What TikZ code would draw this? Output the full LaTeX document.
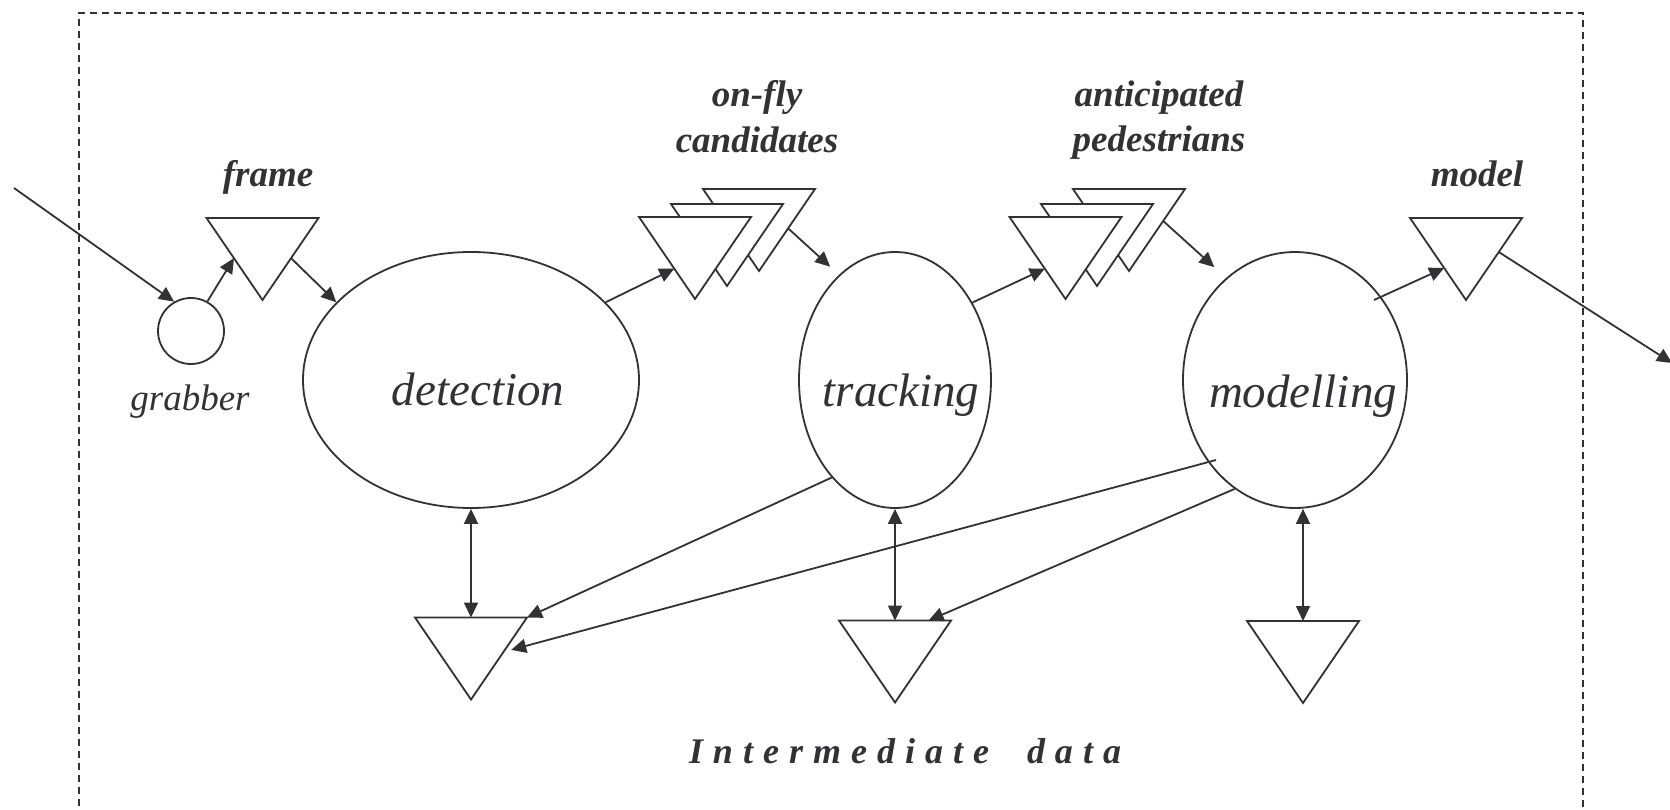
\documentclass[tikz,border=0pt]{standalone}
\usepackage{fontspec}
\setmainfont{Liberation Serif}
\usetikzlibrary{arrows.meta,calc,shapes.geometric}
\definecolor{ink}{RGB}{50,50,54}
\tikzset{
  stroke/.style={draw=ink, line width=1.8pt},
  proc/.style={ellipse, stroke, inner sep=0pt, minimum height=256pt},
  store/.style={rectangle, inner sep=0pt, outer sep=0pt, minimum width=112pt, minimum height=82pt},
  arr/.style={ink, line width=1.8pt, -{Triangle[length=15pt,width=14pt]}},
  dbl/.style={ink, line width=1.8pt, {Triangle[length=15pt,width=14pt]}-{Triangle[length=15pt,width=14pt]}},
  tag/.style={text=ink, font=\fontsize{37}{40}\selectfont\bfseries\itshape, anchor=base, inner sep=0pt},
  big/.style={text=ink, font=\fontsize{47}{50}\selectfont\itshape, anchor=base, inner sep=0pt},
  small/.style={text=ink, font=\fontsize{37}{40}\selectfont\itshape, anchor=base, inner sep=0pt},
}
% a data store: downward triangle drawn over its bounding node
\newcommand\storetri[1]{\draw[stroke, fill=white] (#1.north west) -- (#1.north east) -- (#1.south) -- cycle;}
\newcommand\lsp{\kern10pt}
\begin{document}
\begin{tikzpicture}[x=1pt,y=-1pt]
\useasboundingbox (0,0) rectangle (1670,810);
\clip (0,0) rectangle (1670,810);
\fill[white] (0,0) rectangle (1670,810);

% system boundary
\draw[ink, line width=1.5pt, dash pattern=on 7pt off 5pt]
  (79,830) -- (79,13) -- (1583,13) -- (1583,830);

% processes
\node[proc, minimum width=336pt] (det) at (471,380) {};
\node[proc, minimum width=192pt] (trk) at (895,380) {};
\node[proc, minimum width=224pt] (mod) at (1295,380) {};
\node[big] (detL) at (478,405) {detection};
\node[big] (trkL) at (901,406) {tracking};
\node[big] (modL) at (1303,407) {modelling};

% grabber
\node[circle, stroke, minimum size=66pt, inner sep=0pt] (gr) at (191,331) {};
\node[small] (grL) at (190,410) {grabber};

% data stores
\node[store] (fr) at (262.5,259) {};
\node[store] (of3) at (759,230) {};
\node[store] (of2) at (727,245) {};
\node[store] (of1) at (695,258) {};
\node[store] (ap3) at (1129,230) {};
\node[store] (ap2) at (1097,245) {};
\node[store] (ap1) at (1065.5,258) {};
\node[store] (md) at (1466,259) {};
\node[store] (b1) at (471,658.5) {};
\node[store] (b2) at (895,661.5) {};
\node[store] (b3) at (1303,662) {};
\foreach \s in {fr,of3,of2,of1,ap3,ap2,ap1,md,b1,b2,b3} {\storetri{\s}}

% store labels
\node[tag] (frL) at (268,187) {frame};
\node[tag] (ofL1) at (757,107) {on-fly};
\node[tag] (ofL2) at (757,153) {candidates};
\node[tag] (apL1) at (1159,107) {anticipated};
\node[tag] (apL2) at (1159,152) {pedestrians};
\node[tag] (mdL) at (1477,187) {model};
\node[text=ink, font=\fontsize{36}{40}\selectfont\bfseries\itshape, anchor=base, inner sep=0pt] (imL) at (905,763)
  {I\lsp n\lsp t\lsp e\lsp r\lsp m\lsp e\lsp d\lsp i\lsp a\lsp t\lsp e\kern38pt d\lsp a\lsp t\lsp a};

% external ends
\coordinate (in) at (14,188);
\coordinate (out) at (1672,363);

% main flow
\draw[arr] (in) -- (gr.120);
\draw[arr] (gr.61) -- ($(fr.north west)!0.49!(fr.south)$);
\draw[arr] ($(fr.north east)!0.49!(fr.south)$) -- (det.150);
\draw[arr] (det.30) -- ($(of1.north west)!0.63!(of1.south)$);
\draw[arr, shorten >=12pt] ($(of3.north east)!0.48!(of3.south)$) -- (trk.118);
\draw[arr] (trk.45) -- ($(ap1.north west)!0.63!(ap1.south)$);
\draw[arr, shorten >=16pt] ($(ap3.north east)!0.39!(ap3.south)$) -- (mod.124);
\draw[arr] ($(mod.center)+(79,-80)$) -- ($(md.north west)!0.61!(md.south)$);
\draw[arr] ($(md.north east)!0.415!(md.south)$) -- (out);

% intermediate data access
\draw[dbl] (det.south) -- (b1.north);
\draw[dbl] (trk.south) -- (b2.north);
\draw[dbl] (mod.south -| b3.north) -- (b3.north);
\draw[arr] (trk.237) -- (b1.north east);
\draw[arr, shorten >=8pt] ($(mod.center)+(-79,80)$) -- ($(b1.north east)!0.42!(b1.south)$);
\draw[arr] (mod.241) -- ($(b2.north)!0.6!(b2.north east)$);
\end{tikzpicture}
\end{document}
